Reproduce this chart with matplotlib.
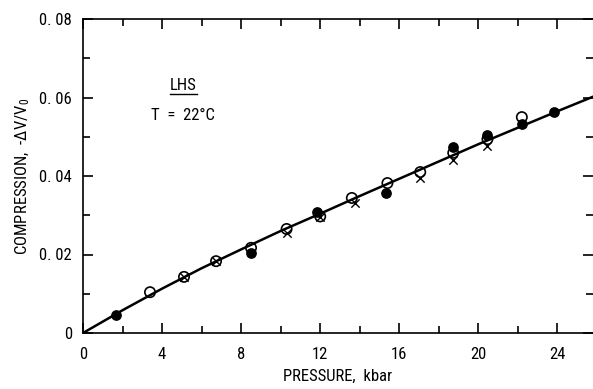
import matplotlib
matplotlib.use("Agg")
import matplotlib.pyplot as plt
from matplotlib import font_manager
from matplotlib.ticker import MultipleLocator, FixedLocator

available = {f.name for f in font_manager.fontManager.ttflist}
preferred = ['Liberation Sans Narrow', 'Roboto Condensed', 'Archivo Narrow', 'Asap Condensed']
fam = [f for f in preferred if f in available][:1] + ['DejaVu Sans']
plt.rcParams['font.family'] = fam
plt.rcParams['mathtext.fontset'] = 'custom'
plt.rcParams['mathtext.rm'] = fam[0]
plt.rcParams['mathtext.it'] = fam[0]

# Fitted curve
curve_P = [0, 2, 4, 6, 8, 10, 12, 14, 16, 18, 20, 22, 24, 25.8]
curve_C = [0, 0.0058, 0.0113, 0.0165, 0.0213, 0.0260, 0.0304, 0.0349, 0.0393, 0.0437, 0.0481, 0.0523, 0.0565, 0.0602]

open_P = [3.39, 5.11, 6.73, 8.5, 10.3, 12.0, 13.6, 15.4, 17.06, 18.73, 20.46, 22.2]
open_C = [0.0104, 0.0143, 0.0183, 0.0217, 0.0265, 0.0297, 0.0344, 0.0382, 0.0410, 0.0459, 0.0494, 0.0550]

filled_P = [1.67, 8.5, 11.85, 15.34, 18.73, 20.46, 22.2, 23.85]
filled_C = [0.0047, 0.0204, 0.0308, 0.0357, 0.0474, 0.0504, 0.0532, 0.0563]

cross_P = [5.11, 6.73, 10.3, 12.0, 13.75, 17.06, 18.73, 20.46]
cross_C = [0.0143, 0.0183, 0.0255, 0.0296, 0.0331, 0.0395, 0.0441, 0.0476]

xticks = [0, 4, 8, 12, 16, 20, 24]
xticklabels = ['0', '4', '8', '12', '16', '20', '24']
yticks = [0, 0.02, 0.04, 0.06, 0.08]
yticklabels = ['0', '0. 02', '0. 04', '0. 06', '0. 08']

fig = plt.figure(figsize=(5.93, 3.89), dpi=100)
ax = fig.add_axes([83/593, 56/389, 510/593, 314/389])

ax.plot(curve_P, curve_C, color='black', lw=1.8, zorder=2)
ax.scatter(cross_P, cross_C, marker='x', s=36, color='black', linewidths=1.0, zorder=3)
ax.scatter(filled_P, filled_C, marker='o', s=45, color='black', zorder=4)
ax.scatter(open_P, open_C, marker='o', s=55, facecolors='none', edgecolors='black', linewidths=1.2, zorder=5)

ax.set_xlim(0, 25.8)
ax.set_ylim(0, 0.08)
ax.xaxis.set_major_locator(FixedLocator(xticks))
ax.set_xticklabels(xticklabels)
ax.xaxis.set_minor_locator(MultipleLocator(2))
ax.yaxis.set_major_locator(FixedLocator(yticks))
ax.set_yticklabels(yticklabels)
ax.yaxis.set_minor_locator(MultipleLocator(0.01))

ax.tick_params(which='both', direction='in', top=True, right=True, labelsize=12, width=1.2)
ax.tick_params(which='major', length=7)
ax.tick_params(which='minor', length=5)
ax.tick_params(axis='x', pad=10)
ax.tick_params(axis='y', pad=8)
ax.spines['right'].set_visible(False)
for s in ['left', 'bottom', 'top']:
    ax.spines[s].set_linewidth(1.2)

ax.set_xlabel('PRESSURE,  kbar', fontsize=12, labelpad=5)
ax.set_ylabel(r'COMPRESSION,  -$\Delta$V/V$_0$', fontsize=12, labelpad=5)

ax.text(0.196, 0.774, 'LHS', transform=ax.transAxes, fontsize=12, ha='center', va='baseline')
ax.plot([0.171, 0.224], [0.761, 0.761], transform=ax.transAxes, color='black', lw=1)
ax.text(0.195, 0.678, 'T  =  22°C', transform=ax.transAxes, fontsize=12, ha='center', va='baseline')

fig.savefig('out.png', dpi=100)
